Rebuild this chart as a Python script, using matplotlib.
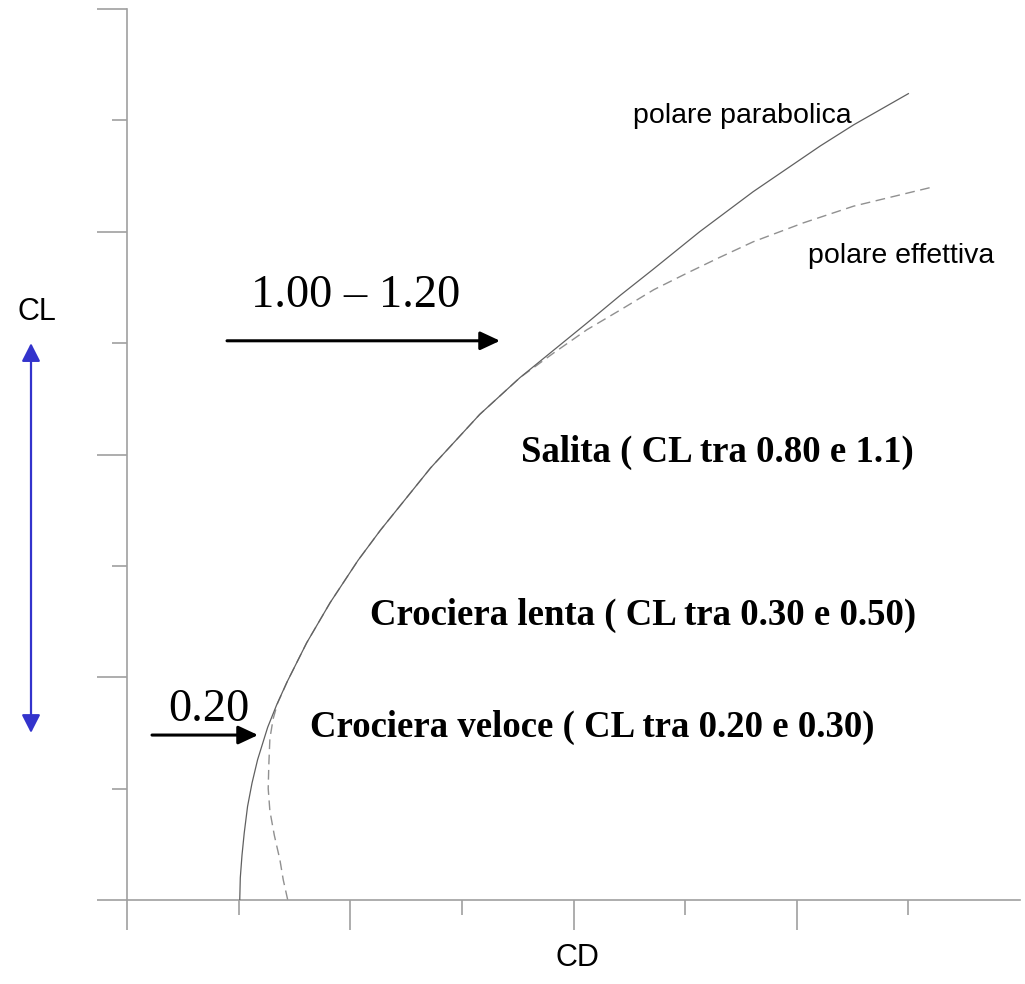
import numpy as np
import matplotlib
matplotlib.use("Agg")
import matplotlib.pyplot as plt

# polare parabolica
cd_par = [1.01, 1.015, 1.03, 1.05, 1.08, 1.12, 1.17, 1.26, 1.34, 1.43, 1.61,
          1.82, 2.07, 2.27, 2.72, 3.16, 3.52, 4.12, 4.42, 4.71, 5.13, 5.61,
          6.21, 6.51, 7.00]
cl_par = [0.00, 0.20, 0.40, 0.60, 0.84, 1.05, 1.26, 1.55, 1.75, 1.95, 2.31,
          2.67, 3.05, 3.32, 3.88, 4.36, 4.69, 5.18, 5.43, 5.66, 6.00, 6.36,
          6.77, 6.96, 7.24]

# polare effettiva
cd_eff = [1.44, 1.40, 1.37, 1.32, 1.28, 1.265, 1.27, 1.28, 1.31, 1.35, 1.40,
          1.44, 1.61, 1.82, 2.07, 2.27, 2.72, 3.16, 3.52, 3.82, 4.12, 4.44,
          4.72, 5.02, 5.31, 5.61, 6.06, 6.51, 7.21]
cl_eff = [0.00, 0.18, 0.36, 0.58, 0.80, 1.00, 1.20, 1.45, 1.63, 1.77, 1.88,
          1.97, 2.31, 2.67, 3.05, 3.32, 3.88, 4.36, 4.69, 4.91, 5.12, 5.31,
          5.48, 5.63, 5.77, 5.91, 6.08, 6.23, 6.40]

x_major = [0, 2, 4, 6]
x_minor = [1, 3, 5, 7]
y_major = [0, 2, 4, 6, 8]
y_minor = [1, 3, 5, 7]

sans = "Liberation Sans"
serif = "Liberation Serif"
grey = "#a0a0a0"

fig = plt.figure(figsize=(10.25, 9.84), dpi=100)
ax = fig.add_axes([127/1025, 84/984, 893/1025, 891/984])
ax.set_xlim(0, 8)
ax.set_ylim(0, 8)

ax.plot(cd_eff, cl_eff, color="#909090", lw=1.0, dashes=(7, 4), zorder=2)
ax.plot(cd_par, cl_par, color="#606060", lw=0.9, zorder=3)

for s in ["top", "right"]:
    ax.spines[s].set_visible(False)
for s in ["left", "bottom"]:
    ax.spines[s].set_color(grey)
    ax.spines[s].set_linewidth(1.2)

ax.set_xticks(x_major)
ax.set_xticks(x_minor, minor=True)
ax.set_yticks(y_major)
ax.set_yticks(y_minor, minor=True)
ax.tick_params(which="major", length=21.6, width=1.2, color=grey, direction="out",
               labelbottom=False, labelleft=False)
ax.tick_params(which="minor", length=10.8, width=1.2, color=grey, direction="out")

# axis labels
ax.text(-0.806, 5.206, "CL", family=sans, fontsize=22, ha="center", va="baseline",
        clip_on=False)
ax.text(4.032, -0.521, "CD", family=sans, fontsize=22, ha="center", va="center",
        clip_on=False)

# curve labels
ax.text(4.531, 6.975, "polare parabolica", family=sans, fontsize=20.5, va="baseline")
ax.text(6.102, 5.718, "polare effettiva", family=sans, fontsize=20.5, va="baseline")

# blue CL range arrow
ax.annotate("", xy=(-0.86, 5.0), xytext=(-0.86, 1.5), annotation_clip=False,
            arrowprops=dict(arrowstyle="<|-|>,head_length=0.55,head_width=0.28",
                            color="#3333cc", lw=1.6, mutation_scale=20,
                            shrinkA=0, shrinkB=0))

# black arrows
ax.annotate("", xy=(3.342, 5.021), xytext=(0.896, 5.021),
            arrowprops=dict(arrowstyle="-|>,head_length=0.6,head_width=0.28",
                            color="black", lw=2.2, mutation_scale=20,
                            shrinkA=0, shrinkB=0))
ax.annotate("", xy=(1.174, 1.481), xytext=(0.224, 1.481),
            arrowprops=dict(arrowstyle="-|>,head_length=0.6,head_width=0.28",
                            color="black", lw=2.2, mutation_scale=20,
                            shrinkA=0, shrinkB=0))

ax.text(1.108, 5.323, "1.00 \u2013 1.20", family=serif, fontsize=33.5, va="baseline")
ax.text(0.367, 1.607, "0.20", family=serif, fontsize=33.5, va="baseline")

# flight phase labels
ax.text(3.528, 3.932, "Salita ( CL tra 0.80 e 1.1)", family=serif, fontsize=26.5,
        weight="bold", va="baseline")
ax.text(2.177, 2.469, "Crociera lenta ( CL tra 0.30 e 0.50)", family=serif,
        fontsize=26.5, weight="bold", va="baseline")
ax.text(1.640, 1.463, "Crociera veloce ( CL tra 0.20 e 0.30)", family=serif,
        fontsize=26.5, weight="bold", va="baseline")

fig.savefig("out.png", dpi=100)
